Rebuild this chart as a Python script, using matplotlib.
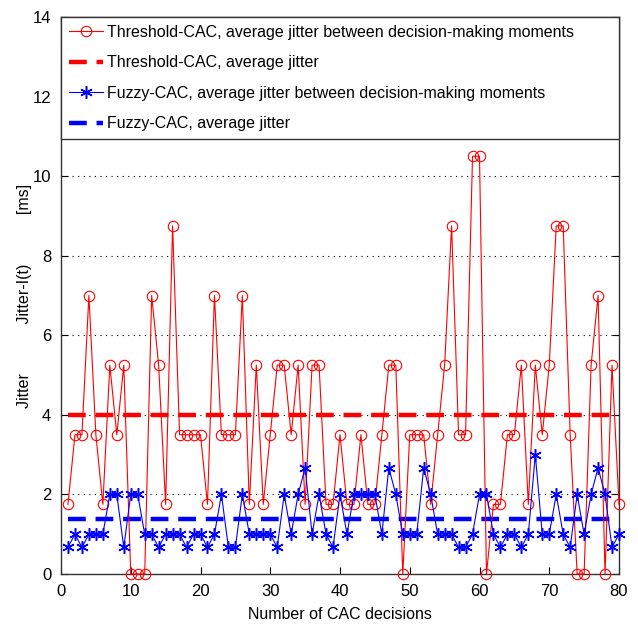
import numpy as np
import matplotlib
matplotlib.use('Agg')
import matplotlib.pyplot as plt

# jitter between decision-making moments, Threshold-CAC [ms]
threshold_jitter = [1.75, 3.5, 3.5, 7, 3.5, 1.75, 5.25, 3.5, 5.25, 0,
                    0, 0, 7, 5.25, 1.75, 8.75, 3.5, 3.5, 3.5, 3.5,
                    1.75, 7, 3.5, 3.5, 3.5, 7, 1.75, 5.25, 1.75, 3.5,
                    5.25, 5.25, 3.5, 5.25, 1.75, 5.25, 5.25, 1.75, 1.75, 3.5,
                    1.75, 1.75, 3.5, 1.75, 1.75, 3.5, 5.25, 5.25, 0, 3.5,
                    3.5, 3.5, 1.75, 3.5, 5.25, 8.75, 3.5, 3.5, 10.5, 10.5,
                    0, 1.75, 1.75, 3.5, 3.5, 5.25, 1.75, 5.25, 3.5, 5.25,
                    8.75, 8.75, 3.5, 0, 0, 5.25, 7, 0, 5.25, 1.75]

# jitter between decision-making moments, Fuzzy-CAC [ms]
fuzzy_jitter = [0.67, 1, 0.67, 1, 1, 1, 2, 2, 0.67, 2,
                2, 1, 1, 0.67, 1, 1, 1, 0.67, 1, 1,
                0.67, 1, 2, 0.67, 0.67, 2, 1, 1, 1, 1,
                0.67, 2, 1, 2, 2.67, 1, 2, 1, 0.67, 2,
                1, 2, 2, 2, 2, 1, 2.67, 2, 1, 1,
                1, 2.67, 2, 1, 1, 1, 0.67, 0.67, 1, 2,
                2, 1, 0.67, 1, 1, 0.67, 1, 3, 1, 1,
                2, 1, 0.67, 2, 1, 2, 2.67, 2, 0.67, 1]

threshold_avg = 4.0
fuzzy_avg = 1.37

decisions = np.arange(1, len(threshold_jitter) + 1)

plt.rcParams['font.family'] = ['Liberation Sans', 'DejaVu Sans']
plt.rcParams['font.size'] = 11.5

fig = plt.figure(figsize=(6.38, 6.32), dpi=100)
ax = fig.add_axes([61 / 638, 58 / 632, 558 / 638, 557 / 632])

ax.plot(decisions, threshold_jitter, color='#ff0000', lw=0.8, marker='o',
        markersize=7.5, markerfacecolor='none', markeredgewidth=0.8,
        clip_on=False, zorder=4,
        label='Threshold-CAC, average jitter between decision-making moments')
ax.plot([decisions[0], decisions[-1]], [threshold_avg] * 2, color='#ff0000',
        lw=3.2, ls='--', dashes=(4, 2.2), zorder=3,
        label='Threshold-CAC, average jitter')
ax.plot(decisions, fuzzy_jitter, color='#0000ff', lw=0.8, marker=(6, 2, 0),
        markersize=9, markeredgewidth=1.1, clip_on=False, zorder=5,
        label='Fuzzy-CAC, average jitter between decision-making moments')
ax.plot([decisions[0], decisions[-1]], [fuzzy_avg] * 2, color='#0000ff',
        lw=3.2, ls='--', dashes=(4, 2.2), zorder=3,
        label='Fuzzy-CAC, average jitter')

ax.set_xlim(0, 80)
ax.set_ylim(0, 14)
ax.set_xticks(range(0, 81, 10))
ax.set_yticks(range(0, 15, 2))
ax.yaxis.grid(True, ls=(0, (1, 4)), color='black', lw=0.8)
ax.tick_params(direction='in', top=True, right=True, length=5, width=0.8,
               labelsize=12, pad=7)
for s in ax.spines.values():
    s.set_linewidth(1.0)
    s.set_color('#333333')

ax.set_xlabel('Number of CAC decisions', fontsize=11.5, labelpad=6)
ax.set_ylabel('Jitter           Jitter-I(t)           [ms]', fontsize=11.5)
ax.yaxis.set_label_coords(-0.052, 0.5)

leg = ax.legend(loc='upper left', bbox_to_anchor=(0, 1, 1, 0), mode='expand',
                borderaxespad=0, fancybox=False, edgecolor='#333333',
                framealpha=1, handlelength=2.1, handletextpad=0.3,
                labelspacing=0.97, borderpad=0.5, fontsize=11.5)
leg.get_frame().set_linewidth(1.0)
leg.set_zorder(10)

fig.savefig('out.png', dpi=100)
